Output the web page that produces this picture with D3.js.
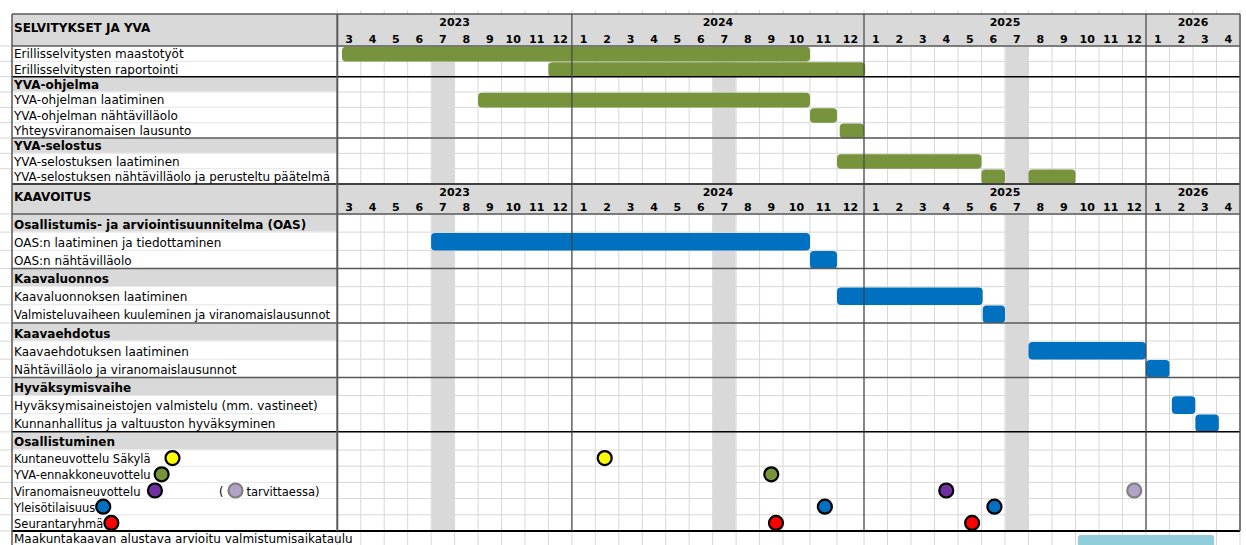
<!DOCTYPE html>
<html>
<head>
<meta charset="utf-8">
<script src="https://cdn.jsdelivr.net/npm/d3@7"></script>
<style>
  body { margin: 0; background: #fff; }
  svg { display: block; }
  text { font-family: "DejaVu Sans", Verdana, sans-serif; font-size: 12px; fill: #000; }
  text.tick { font-size: 11px; font-weight: bold; }
  text.meet { font-size: 11.5px; }
</style>
</head>
<body>
<script>
// month tick labels, March 2023 .. April 2026 (index 0 = 3/2023)
const monthTicks = [3, 4, 5, 6, 7, 8, 9, 10, 11, 12,
  1, 2, 3, 4, 5, 6, 7, 8, 9, 10, 11, 12,
  1, 2, 3, 4, 5, 6, 7, 8, 9, 10, 11, 12,
  1, 2, 3, 4];
const yearLabels = ["2023", "2024", "2025", "2026"];
const shadedMonth = 7;

const yvaTitle = "SELVITYKSET JA YVA";
const yvaRows = [
  "Erillisselvitysten maastotyöt",
  "Erillisselvitysten raportointi",
  "YVA-ohjelma",
  "YVA-ohjelman laatiminen",
  "YVA-ohjelman nähtävilläolo",
  "Yhteysviranomaisen lausunto",
  "YVA-selostus",
  "YVA-selostuksen laatiminen",
  "YVA-selostuksen nähtävilläolo ja perusteltu päätelmä"
];
const yvaGroups = ["YVA-ohjelma", "YVA-selostus"];
const yvaBars = [
  { task: "Erillisselvitysten maastotyöt", start: 0.2, end: 20 },
  { task: "Erillisselvitysten raportointi", start: 9, end: 22.05 },
  { task: "YVA-ohjelman laatiminen", start: 6, end: 20 },
  { task: "YVA-ohjelman nähtävilläolo", start: 20, end: 21 },
  { task: "Yhteysviranomaisen lausunto", start: 21.1, end: 22 },
  { task: "YVA-selostuksen laatiminen", start: 21, end: 27 },
  { task: "YVA-selostuksen nähtävilläolo ja perusteltu päätelmä", start: 27, end: 28 },
  { task: "YVA-selostuksen nähtävilläolo ja perusteltu päätelmä", start: 29, end: 31 }
];

const kaavaTitle = "KAAVOITUS";
const kaavaRows = [
  "Osallistumis- ja arviointisuunnitelma (OAS)",
  "OAS:n laatiminen ja tiedottaminen",
  "OAS:n nähtävilläolo",
  "Kaavaluonnos",
  "Kaavaluonnoksen laatiminen",
  "Valmisteluvaiheen kuuleminen ja viranomaislausunnot",
  "Kaavaehdotus",
  "Kaavaehdotuksen laatiminen",
  "Nähtävilläolo ja viranomaislausunnot",
  "Hyväksymisvaihe",
  "Hyväksymisaineistojen valmistelu (mm. vastineet)",
  "Kunnanhallitus ja valtuuston hyväksyminen",
  "Osallistuminen"
];
const kaavaGroups = ["Osallistumis- ja arviointisuunnitelma (OAS)", "Kaavaluonnos",
  "Kaavaehdotus", "Hyväksymisvaihe", "Osallistuminen"];
const kaavaBars = [
  { task: "OAS:n laatiminen ja tiedottaminen", start: 4, end: 20 },
  { task: "OAS:n nähtävilläolo", start: 20, end: 21 },
  { task: "Kaavaluonnoksen laatiminen", start: 21, end: 27.05 },
  { task: "Valmisteluvaiheen kuuleminen ja viranomaislausunnot", start: 27.05, end: 28 },
  { task: "Kaavaehdotuksen laatiminen", start: 29, end: 34 },
  { task: "Nähtävilläolo ja viranomaislausunnot", start: 34, end: 35 },
  { task: "Hyväksymisaineistojen valmistelu (mm. vastineet)", start: 35.1, end: 36.1 },
  { task: "Kunnanhallitus ja valtuuston hyväksyminen", start: 36.1, end: 37.1 }
];

const meetingRows = ["Kuntaneuvottelu Säkylä", "YVA-ennakkoneuvottelu", "Viranomaisneuvottelu",
  "Yleisötilaisuus", "Seurantaryhmä"];
const meetingColors = ["#ffff00", "#77933c", "#7030a0", "#0070c0", "#ff0000"];
const meetings = [
  { task: "Kuntaneuvottelu Säkylä", month: 11.4 },
  { task: "YVA-ennakkoneuvottelu", month: 18.5 },
  { task: "Viranomaisneuvottelu", month: 25.5 },
  { task: "Yleisötilaisuus", month: 20.55 },
  { task: "Yleisötilaisuus", month: 27.55 },
  { task: "Seurantaryhmä", month: 18.7 },
  { task: "Seurantaryhmä", month: 26.6 }
];
const optionalMeetings = [{ task: "Viranomaisneuvottelu", month: 33.5 }];
const optionalText = ["(", "tarvittaessa)"];

const maakuntaLabel = "Maakuntakaavan alustava arvioitu valmistumisaikataulu";
const maakuntaBars = [{ start: 31.1, end: 36.9 }];

// layout
const W = 1246, H = 545;
const left = 12, labelEdge = 337.3, right = 1240;
const green = "#77933c", blue = "#0070c0", lightBlue = "#92cddc";
const headGrey = "#d9d9d9", gridGrey = "#d8d8d8", darkLine = "#595959";
const legendGap = [15, 4, 7.5, 1, 1]; // space between label and its dot
const maxLabel = 316;
const r = 7;

const svg = d3.select("body").append("svg").attr("width", W).attr("height", H);

// 10-12/2024 columns are wider in the sheet
const x = d3.scaleLinear().domain([0, 19, 22, 38]).range([labelEdge, 783, 864, right]);

const yTop = d3.scaleBand().domain(yvaRows).range([46, 184]);
const yKaava = d3.scaleBand().domain(kaavaRows).range([214, 450]);
const yMeet = d3.scaleBand().domain(meetingRows).range([450, 531]);
const yMaak = d3.scaleBand().domain([maakuntaLabel]).range([531, 549]);

const yearStarts = monthTicks.map((m, i) => m === 1 || i === 0 ? i : -1).filter(i => i >= 0);
const yearEnds = yearStarts.slice(1).concat([monthTicks.length]);

const allBands = [
  ...yvaRows.map(r => [yTop(r), yTop.bandwidth()]),
  ...kaavaRows.map(r => [yKaava(r), yKaava.bandwidth()]),
  ...meetingRows.map(r => [yMeet(r), yMeet.bandwidth()]),
  [yMaak(maakuntaLabel), yMaak.bandwidth()]
];

// light excel grid
const grid = svg.append("g").attr("stroke", gridGrey).attr("stroke-width", 1);
grid.selectAll("line.v").data(d3.range(0, monthTicks.length + 1)).join("line")
  .attr("x1", d => x(d)).attr("x2", d => x(d)).attr("y1", 10).attr("y2", H);
grid.selectAll("line.h").data(allBands.map(b => b[0])).join("line")
  .attr("x1", 0).attr("x2", right).attr("y1", d => d).attr("y2", d => d);

// shaded July columns
const julys = monthTicks.map((m, i) => m === shadedMonth ? i : -1).filter(i => i >= 0);
[[46, 184], [214, 531]].forEach(([a, b]) => {
  svg.append("g").selectAll("rect").data(julys).join("rect")
    .attr("x", d => x(d) + 0.5).attr("width", d => x(d + 1) - x(d) - 1)
    .attr("y", a).attr("height", b - a).attr("fill", headGrey);
});

// white label column
svg.append("rect").attr("x", left).attr("y", 14).attr("width", labelEdge - left).attr("height", 517)
  .attr("fill", "#fff");

// header rows
const headers = [{ title: yvaTitle, y0: 14, y1: 46 }, { title: kaavaTitle, y0: 184, y1: 214 }];
svg.append("g").selectAll("rect").data(headers).join("rect")
  .attr("x", left).attr("width", right - left)
  .attr("y", d => d.y0).attr("height", d => d.y1 - d.y0).attr("fill", headGrey);

// group rows (label column only)
const groupBands = [
  ...yvaGroups.map(g => [yTop(g), yTop.bandwidth()]),
  ...kaavaGroups.map(g => [yKaava(g), yKaava.bandwidth()])
];
svg.append("g").selectAll("rect").data(groupBands).join("rect")
  .attr("x", left).attr("width", labelEdge - left)
  .attr("y", d => d[0] + 0.5).attr("height", d => d[1] - 1).attr("fill", headGrey);

// faint separators in the label column
svg.append("g").attr("stroke", "#e6e6e6").selectAll("line").data(allBands.map(b => b[0])).join("line")
  .attr("x1", left).attr("x2", labelEdge).attr("y1", d => d).attr("y2", d => d);

// bars
function drawBars(bars, y, color) {
  svg.append("g").selectAll("rect").data(bars).join("rect")
    .attr("x", d => x(d.start)).attr("width", d => x(d.end) - x(d.start))
    .attr("y", d => y(d.task) + 0.8).attr("height", y.bandwidth() - 0.6)
    .attr("rx", 4).attr("fill", color);
}
drawBars(yvaBars, yTop, green);
drawBars(kaavaBars, yKaava, blue);
svg.append("g").selectAll("rect").data(maakuntaBars).join("rect")
  .attr("x", d => x(d.start)).attr("width", d => x(d.end) - x(d.start))
  .attr("y", yMaak(maakuntaLabel) + 4).attr("height", 14).attr("rx", 3).attr("fill", lightBlue);

// strong horizontal lines
const hLines = [
  { y: 14, c: darkLine, w: 1.5 }, { y: 46, c: darkLine, w: 1.5 },
  { y: yTop("YVA-ohjelma"), c: "#000", w: 1.5 }, { y: yTop("YVA-selostus"), c: darkLine, w: 1.5 },
  { y: 184, c: "#404040", w: 2 }, { y: 214, c: darkLine, w: 1.5 },
  ...kaavaGroups.slice(1, 4).map(g => ({ y: yKaava(g), c: darkLine, w: 1.5 })),
  { y: yKaava("Osallistuminen"), c: "#000", w: 1.5 },
  { y: 531, c: "#000", w: 2 }
];
svg.append("g").selectAll("line").data(hLines).join("line")
  .attr("x1", left).attr("x2", right).attr("y1", d => d.y).attr("y2", d => d.y)
  .attr("stroke", d => d.c).attr("stroke-width", d => d.w);

// vertical lines
const vLines = [
  { x: left, y1: 14, y2: H, w: 1.5, c: darkLine },
  { x: labelEdge, y1: 14, y2: 531, w: 2, c: darkLine },
  ...yearStarts.slice(1).map(i => ({ x: x(i), y1: 14, y2: 531, w: 1.2, c: "#444" })),
  { x: right, y1: 14, y2: 531, w: 1.5, c: darkLine }
];
svg.append("g").selectAll("line").data(vLines).join("line")
  .attr("x1", d => d.x).attr("x2", d => d.x).attr("y1", d => d.y1).attr("y2", d => d.y2)
  .attr("stroke", d => d.c).attr("stroke-width", d => d.w);

// header texts: title, years, months
headers.forEach(h => {
  const g = svg.append("g");
  g.append("text").attr("x", 14).attr("y", (h.y0 + h.y1) / 2 + 2)
    .style("font-weight", "bold").text(h.title);
  g.selectAll("text.year").data(yearLabels).join("text").attr("class", "tick year")
    .attr("x", (d, i) => (x(yearStarts[i]) + x(yearEnds[i])) / 2)
    .attr("y", h.y0 + 12).attr("text-anchor", "middle").text(d => d);
  g.selectAll("text.month").data(monthTicks).join("text").attr("class", "tick month")
    .attr("x", (d, i) => (x(i) + x(i + 1)) / 2)
    .attr("y", h.y1 - 3.5).attr("text-anchor", "middle").text(d => d);
});

// row labels; squeeze the few that would run past the label column
function fit(sel) {
  sel.each(function () {
    if (this.getComputedTextLength() > maxLabel) {
      d3.select(this).attr("textLength", maxLabel).attr("lengthAdjust", "spacingAndGlyphs");
    }
  });
}
function drawLabels(rows, groups, y, dy) {
  svg.append("g").selectAll("text").data(rows).join("text")
    .attr("x", 14).attr("y", d => y(d) + y.bandwidth() / 2 + dy)
    .style("font-weight", d => groups.includes(d) ? "bold" : null)
    .text(d => d)
    .call(fit);
}
drawLabels(yvaRows, yvaGroups, yTop, 4.5);
drawLabels(kaavaRows, kaavaGroups, yKaava, 5.5);
const meetLabels = svg.append("g").selectAll("text").data(meetingRows).join("text")
  .attr("class", "meet")
  .attr("x", 14).attr("y", d => yMeet(d) + yMeet.bandwidth() / 2 + 5).text(d => d);
svg.append("text").attr("x", 14).attr("y", yMaak(maakuntaLabel) + 11.5).text(maakuntaLabel);

// legend dots after meeting labels
const labelEnd = {};
meetLabels.each(function (d) { labelEnd[d] = 14 + this.getComputedTextLength(); });
svg.append("g").selectAll("circle").data(meetingRows).join("circle")
  .attr("cx", (d, i) => labelEnd[d] + legendGap[i] + r)
  .attr("cy", d => yMeet(d) + yMeet.bandwidth() / 2)
  .attr("r", r).attr("fill", (d, i) => meetingColors[i])
  .attr("stroke", "#000").attr("stroke-width", 2.2);

// "( o tarvittaessa)"
const optY = yMeet("Viranomaisneuvottelu") + yMeet.bandwidth() / 2;
const paren = svg.append("text").attr("class", "meet").attr("x", 219).attr("y", optY + 5).text(optionalText[0]);
const parenEnd = 219 + paren.node().getComputedTextLength();
svg.append("circle").attr("cx", parenEnd + 5 + r).attr("cy", optY).attr("r", r)
  .attr("fill", "#b3a2c7").attr("stroke", "#7f7f7f").attr("stroke-width", 2.2);
svg.append("text").attr("class", "meet").attr("x", parenEnd + 9 + 2 * r).attr("y", optY + 5).text(optionalText[1]);

// milestone dots on timeline
svg.append("g").selectAll("circle").data(meetings).join("circle")
  .attr("cx", d => x(d.month)).attr("cy", d => yMeet(d.task) + yMeet.bandwidth() / 2)
  .attr("r", r).attr("fill", d => meetingColors[meetingRows.indexOf(d.task)])
  .attr("stroke", "#000").attr("stroke-width", 2.2);
svg.append("g").selectAll("circle").data(optionalMeetings).join("circle")
  .attr("cx", d => x(d.month)).attr("cy", d => yMeet(d.task) + yMeet.bandwidth() / 2)
  .attr("r", r).attr("fill", "#b3a2c7").attr("stroke", "#7f7f7f").attr("stroke-width", 2.2);
</script>
</body>
</html>
